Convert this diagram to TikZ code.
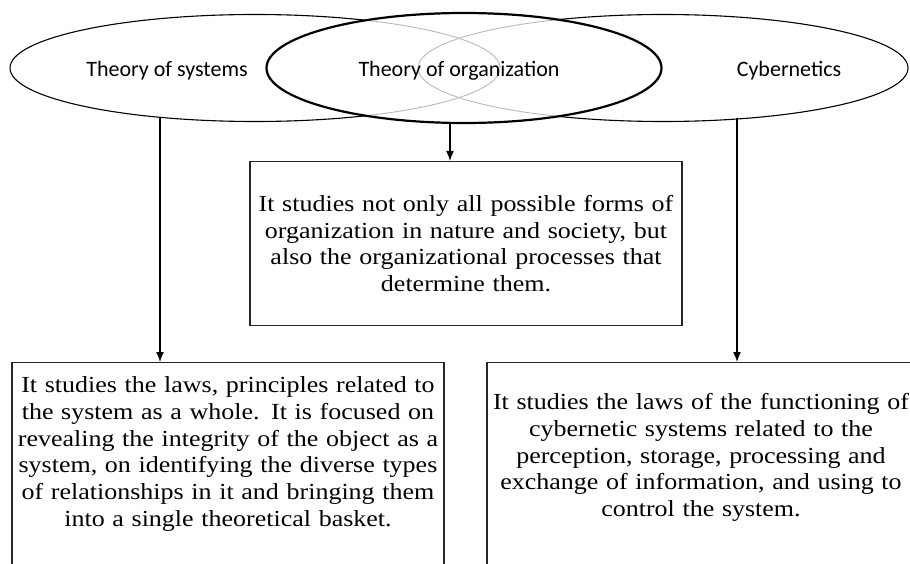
\documentclass[tikz,border=0pt]{standalone}
\usepackage{fontspec}
\setmainfont{Liberation Serif}[FakeStretch=1.13]
\newfontfamily\ellfont{Carlito}
\usetikzlibrary{shapes.geometric,arrows.meta}

\begin{document}
\begin{tikzpicture}[x=1pt,y=-1pt,
  ell/.style={draw,ellipse,inner sep=0pt,outer sep=0pt,line width=1.1pt},
  elltext/.style={font=\ellfont\fontsize{22}{26}\selectfont,anchor=base,inner sep=0pt},
  descbox/.style={draw=black!85,line width=1.3pt,align=center,anchor=north,
    font=\fontsize{23}{26.7}\selectfont,inner xsep=4pt},
  link/.style={->,>={Latex[length=10pt,width=8pt]},line width=1.4pt}]
\useasboundingbox (0,0) rectangle (910,564);
\clip (0,0) rectangle (910,564);
\node[ell,minimum width=490pt,minimum height=107pt] (sysell)at(255,68){};
\node[ell,minimum width=490pt,minimum height=107pt] (cybell)at(663,68){};
\fill[white] (464,68) ellipse [x radius=197.5pt,y radius=55pt];
\begin{scope}
\clip (464,68) ellipse [x radius=197.5pt,y radius=55pt];
\draw[gray!55,line width=0.9pt] (255,68) ellipse [x radius=245pt,y radius=53.5pt];
\draw[gray!55,line width=0.9pt] (663,68) ellipse [x radius=245pt,y radius=53.5pt];
\end{scope}
\node[ell,line width=2.2pt,minimum width=395pt,minimum height=110pt] (orgell)at(464,68){};
\node[elltext] (sysname)at(167,77){Theory of systems};
\node[elltext] (orgname)at(459,77){Theory of organization};
\node[elltext] (cybname)at(789,77){Cybernetics};
\node[descbox,text width=424pt,minimum height=164pt] (orgbox)at(466,161){It studies not only all possible forms of\\
  organization in nature and society, but\\ also the organizational processes that\\ determine them.};
\node[descbox,text width=424pt,inner ysep=14pt] (sysbox)at(228,362){It studies the laws, principles related to\\
  the system as a whole. It is focused on\\ revealing the integrity of the object as a\\
  system, on identifying the diverse types\\ of relationships in it and bringing them\\
  into a single theoretical basket.\\ \rule{0pt}{50pt}};
\node[descbox,text width=420pt,inner ysep=31pt] (cybbox)at(701,362){It studies the laws of the functioning of\\
  cybernetic systems related to the\\ perception, storage, processing and\\
  exchange of information, and using to\\ control the system.\\ \rule{0pt}{40pt}};
\coordinate (sysfoot) at (160,117);
\coordinate (orgfoot) at (450,123);
\coordinate (cybfoot) at (737,118);
\draw[link] (sysfoot) -- (sysfoot |- sysbox.north);
\draw[link] (orgfoot) -- (orgfoot |- orgbox.north);
\draw[link] (cybfoot) -- (cybfoot |- cybbox.north);
\end{tikzpicture}
\end{document}
